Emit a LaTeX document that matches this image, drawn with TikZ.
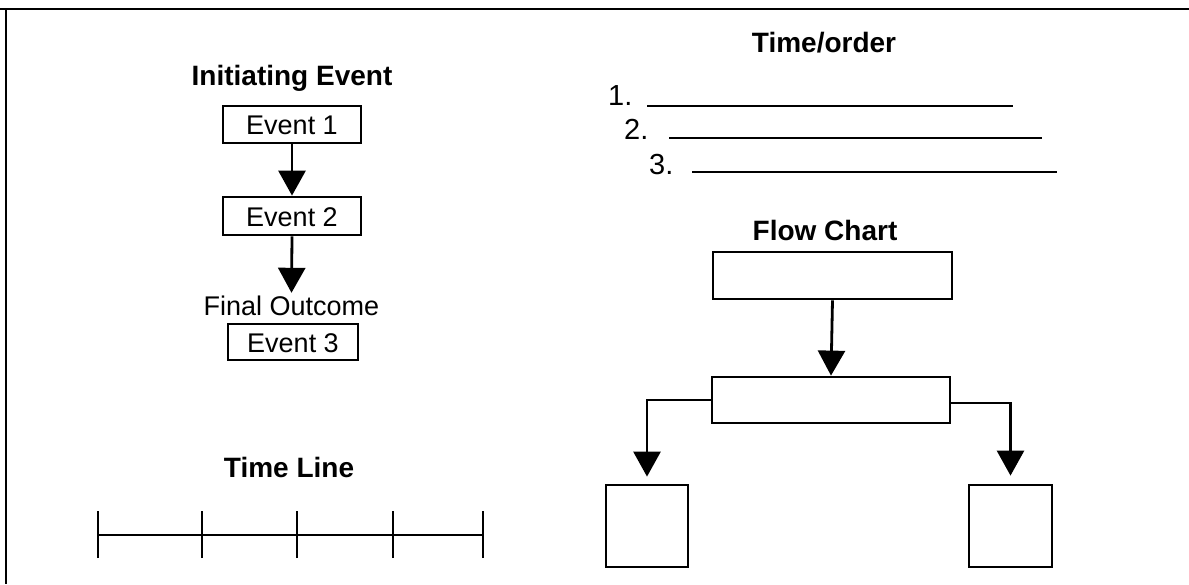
\documentclass[tikz,border=0pt]{standalone}
\usepackage{fontspec}
\setmainfont{Liberation Sans}
\usetikzlibrary{arrows.meta}
\tikzset{
  evbox/.style={draw, line width=2.8pt, inner sep=0pt, text height=20pt, text depth=0pt,
    font=\fontsize{27}{30}\selectfont},
  flbox/.style={draw, line width=2.8pt, inner sep=0pt},
  headtxt/.style={font=\bfseries\fontsize{28}{32}\selectfont, inner sep=0pt, anchor=base},
  plaintxt/.style={font=\fontsize{27}{30}\selectfont, inner sep=0pt, anchor=base, text height=20pt, text depth=0pt},
  numtxt/.style={font=\fontsize{29}{32}\selectfont, inner sep=0pt, anchor=base west},
  arr/.style={line width=2.8pt, -{Triangle[width=27pt,length=25pt]}},
  ruleline/.style={line width=2.2pt},
  frameline/.style={line width=1.8pt},
  tick/.style={line width=2.4pt},
}
\begin{document}
\begin{tikzpicture}[x=1pt,y=-1pt]
\useasboundingbox (0,0) rectangle (1189,584);
\fill[white] (0,0) rectangle (1189,584);

% frame
\coordinate (ftl) at (6,9);
\coordinate (ftr) at (1189,9);
\coordinate (fbl) at (6,584);
\coordinate (fl0) at (0,9);
\draw[frameline] (fl0) -- (ftr);
\draw[frameline] (ftl) -- (fbl);

% Left: event chain
\node[headtxt] (init) at (292,85) {Initiating Event};
\node[evbox, minimum width=138pt, minimum height=37pt] (e1) at (292,124.5) {Event 1};
\node[evbox, minimum width=138pt, minimum height=38pt] (e2) at (292,216) {Event 2};
\node[plaintxt] (final) at (291.5,315) {Final Outcome};
\node[evbox, minimum width=130pt, minimum height=36pt] (e3) at (293,342) {Event 3};
\draw[arr] (e1.south) -- (e2.north);
\draw[arr] (e2.south) -- ([yshift=2pt]final.north);

% Time line
\node[headtxt] (tl) at (289,477) {Time Line};
\coordinate (t1) at (98,535);
\coordinate (t2) at (202,535);
\coordinate (t3) at (297,535);
\coordinate (t4) at (393,535);
\coordinate (t5) at (483,535);
\draw[tick] (t1) -- (t5);
\foreach \t in {t1,t2,t3,t4,t5}{
  \draw[tick] ([yshift=-23pt]\t) -- ([yshift=24pt]\t);
}

% Time/order
\node[headtxt] (to) at (824,52) {Time/order};
\node[numtxt] (n1) at (608,105) {1.};
\node[numtxt] (n2) at (624,139) {2.};
\node[numtxt] (n3) at (649,174) {3.};
\coordinate (l1s) at (647,106);
\coordinate (l1e) at (1013,106);
\coordinate (l2s) at (669,138);
\coordinate (l2e) at (1042,138);
\coordinate (l3s) at (692,172);
\coordinate (l3e) at (1057,172);
\draw[ruleline] (l1s) -- (l1e);
\draw[ruleline] (l2s) -- (l2e);
\draw[ruleline] (l3s) -- (l3e);

% Flow chart
\node[headtxt] (fc) at (825,240) {Flow Chart};
\node[flbox, minimum width=239pt, minimum height=47pt] (top) at (832.5,275.5) {};
\node[flbox, minimum width=238pt, minimum height=46pt] (mid) at (831,400) {};
\node[flbox, minimum width=82pt, minimum height=82pt] (lb) at (647,526) {};
\node[flbox, minimum width=83pt, minimum height=82pt] (rb) at (1010.5,526) {};
\draw[arr] (top.south) -- (mid.north);
\draw[arr, shorten >=7pt] (mid.west) -| (lb.north);
\draw[arr, shorten >=8pt] ([yshift=-3pt]mid.east) -| (rb.north);
\end{tikzpicture}
\end{document}
